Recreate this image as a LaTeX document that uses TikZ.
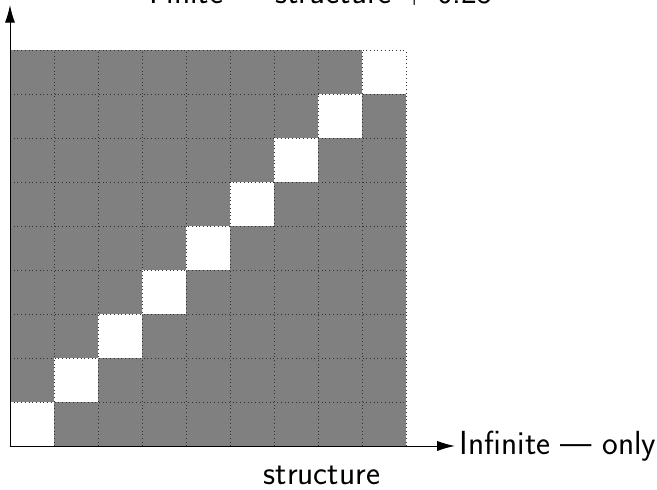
\documentclass[tikz,border=0pt]{standalone}
\usepackage{amsmath, amssymb, tikz}
\usetikzlibrary{arrows.meta}

\begin{document}
\begin{tikzpicture}[font=\sffamily\fontsize{21.6}{26}\selectfont,
                    axis/.style={semithick, -{Latex[length=4mm,width=2.3mm]}}]
                    \useasboundingbox (-0.227,-1.0) rectangle (14.705,10.136);
                    \fill[gray] (0,0) rectangle (9,9);
                    \foreach \x in {0, 1, 2, 3, 4, 5, 6, 7, 8}
                    \fill[white] (\x,\x) rectangle +(1,1);
                    \draw[dotted, color=black!80] (0,0) grid (9,9);
                    \coordinate (o) at (0,0);
                    \coordinate (ytip) at (0,10.02);
                    \coordinate (xtip) at (10.11,0);
                    \draw[axis] (o) -- (ytip);
                    \draw[axis] (o) -- (xtip);
                    \node[anchor=west, inner sep=3pt] (xlab) at (xtip) {Infinite --- only};
                    \node (xsub) at (7.09,-0.66) {structure};
                    \node[anchor=base] (ylab) at (7.07,10.05) {Finite --- structure + 0.25};
                \end{tikzpicture}
\end{document}
